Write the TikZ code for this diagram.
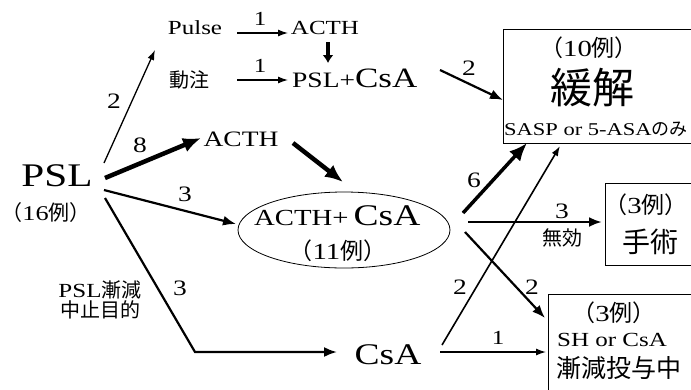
\documentclass[tikz,border=0pt]{standalone}
\usepackage{fontspec}
\setmainfont[FakeStretch=1.25]{Liberation Serif}
\newfontfamily\jp{Noto Sans CJK JP}
\newfontfamily\lat[FakeStretch=1.25]{Liberation Serif}
\usetikzlibrary{arrows.meta,shapes.geometric}
\newcommand\fs[1]{\fontsize{#1}{#1}\selectfont}
\begin{document}
\begin{tikzpicture}[x=1pt,y=-1pt,
  lbl/.style={inner sep=0pt, anchor=center},
  thinarr/.style={line width=1.3pt, -{Latex[length=10pt,width=7pt]}},
  midarr/.style={line width=2.2pt, -{Latex[length=13pt,width=10pt]}},
  thickarr/.style={line width=4.5pt, -{Latex[length=18pt,width=15pt]}},
  boxst/.style={draw, line width=1.3pt, inner sep=0pt, anchor=north west}]
\useasboundingbox (0,0) rectangle (691,389);
\clip (0,0) rectangle (691,389);

% ---------- nodes ----------
\node[lbl,font=\fs{33}] (psl) at (57,176) {PSL};
\node[lbl,font=\fs{21}\jp] (psln) at (46,213) {（{\lat 16}例）};
\node[lbl,font=\fs{20}] (pulse) at (195,28) {Pulse};
\node[lbl,font=\fs{20}] (actha) at (325,28) {ACTH};
\node[lbl,font=\fs{20}\jp] (dochu) at (189,80) {動注};
\node[lbl,anchor=west] (pc) at (292,78) {\fs{22}PSL+\fs{28}CsA};
\node[lbl,font=\fs{22}] (acthb) at (241,139) {ACTH};
\node[draw,ellipse,line width=0.8pt,minimum width=212pt,minimum height=76pt,inner sep=0pt] (ell) at (344,230) {};
\node[lbl,anchor=west] (ellt) at (254,216) {\fs{23}ACTH+\hspace{5pt}\fs{30}CsA};
\node[lbl,font=\fs{23}\jp] (elln) at (338,251) {（{\lat 11}例）};
\node[lbl,font=\fs{30}] (csa) at (388,355) {CsA};
\node[lbl,font=\fs{20}\jp,align=center] (note) at (100,300) {{\lat PSL}漸減\\中止目的};

% boxes
\node[boxst,minimum width=210pt,minimum height=114pt] (rem) at (503,29) {};
\node[boxst,minimum width=100pt,minimum height=82pt] (surg) at (605,183) {};
\node[boxst,minimum width=160pt,minimum height=120pt] (cont) at (548,294) {};

\node[lbl,font=\fs{23}\jp] (remn) at (589,48) {（{\lat 10}例）};
\node[lbl,font=\fs{42}\jp] (remt) at (592,88) {緩解};
\node[lbl,anchor=west] (rems) at (504,129) {\fs{18}SASP or 5-ASA{\jp のみ}};
\node[lbl,font=\fs{23}\jp] (surgn) at (646,205) {（{\lat 3}例）};
\node[lbl,font=\fs{28}\jp] (surgt) at (650,242) {手術};
\node[lbl,font=\fs{23}\jp] (contn) at (614,313) {（{\lat 3}例）};
\node[lbl,anchor=west,font=\fs{20}] (conts) at (557,340) {SH or CsA};
\node[lbl,anchor=west,font=\fs{25}\jp] (contt) at (556,368) {漸減投与中};

% ---------- connector end points ----------
\coordinate (p1) at (104,163);
\coordinate (p1e) at (155,50);
\coordinate (p2) at (105,178);
\coordinate (p2e) at (201,138);
\coordinate (p3) at (104,190);
\coordinate (p3e) at (236,224);
\coordinate (p4) at (105,198);
\coordinate (p4c) at (195,352);
\coordinate (p4e) at (337,352);
\coordinate (a1) at (237,33);
\coordinate (a1e) at (288,33);
\coordinate (a2) at (237,80);
\coordinate (a2e) at (288,80);
\coordinate (d1) at (328,42);
\coordinate (d1e) at (328,63);
\coordinate (b1) at (293,143);
\coordinate (b1e) at (343,182);
\coordinate (c1) at (440,70);
\coordinate (c1e) at (503,100);
\coordinate (e1) at (463,213);
\coordinate (e1e) at (527,143);
\coordinate (e2) at (468,222);
\coordinate (e2e) at (602,222);
\coordinate (e3) at (465,232);
\coordinate (e3e) at (545,318);
\coordinate (f1) at (442,345);
\coordinate (f1e) at (560,146);
\coordinate (f2) at (440,352);
\coordinate (f2e) at (546,352);

% ---------- connectors ----------
\draw[thinarr] (p1) -- (p1e);
\draw[thickarr] (p2) -- (p2e);
\draw[midarr] (p3) -- (p3e);
\draw[midarr] (p4) -- (p4c) -- (p4e);
\draw[thinarr] (a1) -- (a1e);
\draw[thinarr] (a2) -- (a2e);
\draw[line width=4pt,-{Latex[length=8pt,width=11pt]}] (d1) -- (d1e);
\draw[thickarr] (b1) -- (b1e);
\draw[midarr] (c1) -- (c1e);
\draw[thickarr,line width=3.5pt] (e1) -- (e1e);
\draw[midarr,line width=2.6pt] (e2) -- (e2e);
\draw[midarr] (e3) -- (e3e);
\draw[thinarr,line width=1.6pt] (f1) -- (f1e);
\draw[thinarr] (f2) -- (f2e);

% ---------- labels ----------
\node[lbl,font=\fs{22}] (l2) at (114,101) {2};
\node[lbl,font=\fs{22}] (l8) at (140,145) {8};
\node[lbl,font=\fs{22}] (l3a) at (185,194) {3};
\node[lbl,font=\fs{22}] (l3b) at (180,288) {3};
\node[lbl,font=\fs{20}] (l1a) at (260,19) {1};
\node[lbl,font=\fs{20}] (l1b) at (260,66) {1};
\node[lbl,font=\fs{22}] (l2b) at (469,68) {2};
\node[lbl,font=\fs{22}] (l6) at (474,180) {6};
\node[lbl,font=\fs{22}] (l3c) at (562,211) {3};
\node[lbl,font=\fs{20}\jp] (mk) at (562,238) {無効};
\node[lbl,font=\fs{22}] (l2c) at (460,287) {2};
\node[lbl,font=\fs{22}] (l2d) at (532,287) {2};
\node[lbl,font=\fs{20}] (l1c) at (498,338) {1};
\end{tikzpicture}
\end{document}
